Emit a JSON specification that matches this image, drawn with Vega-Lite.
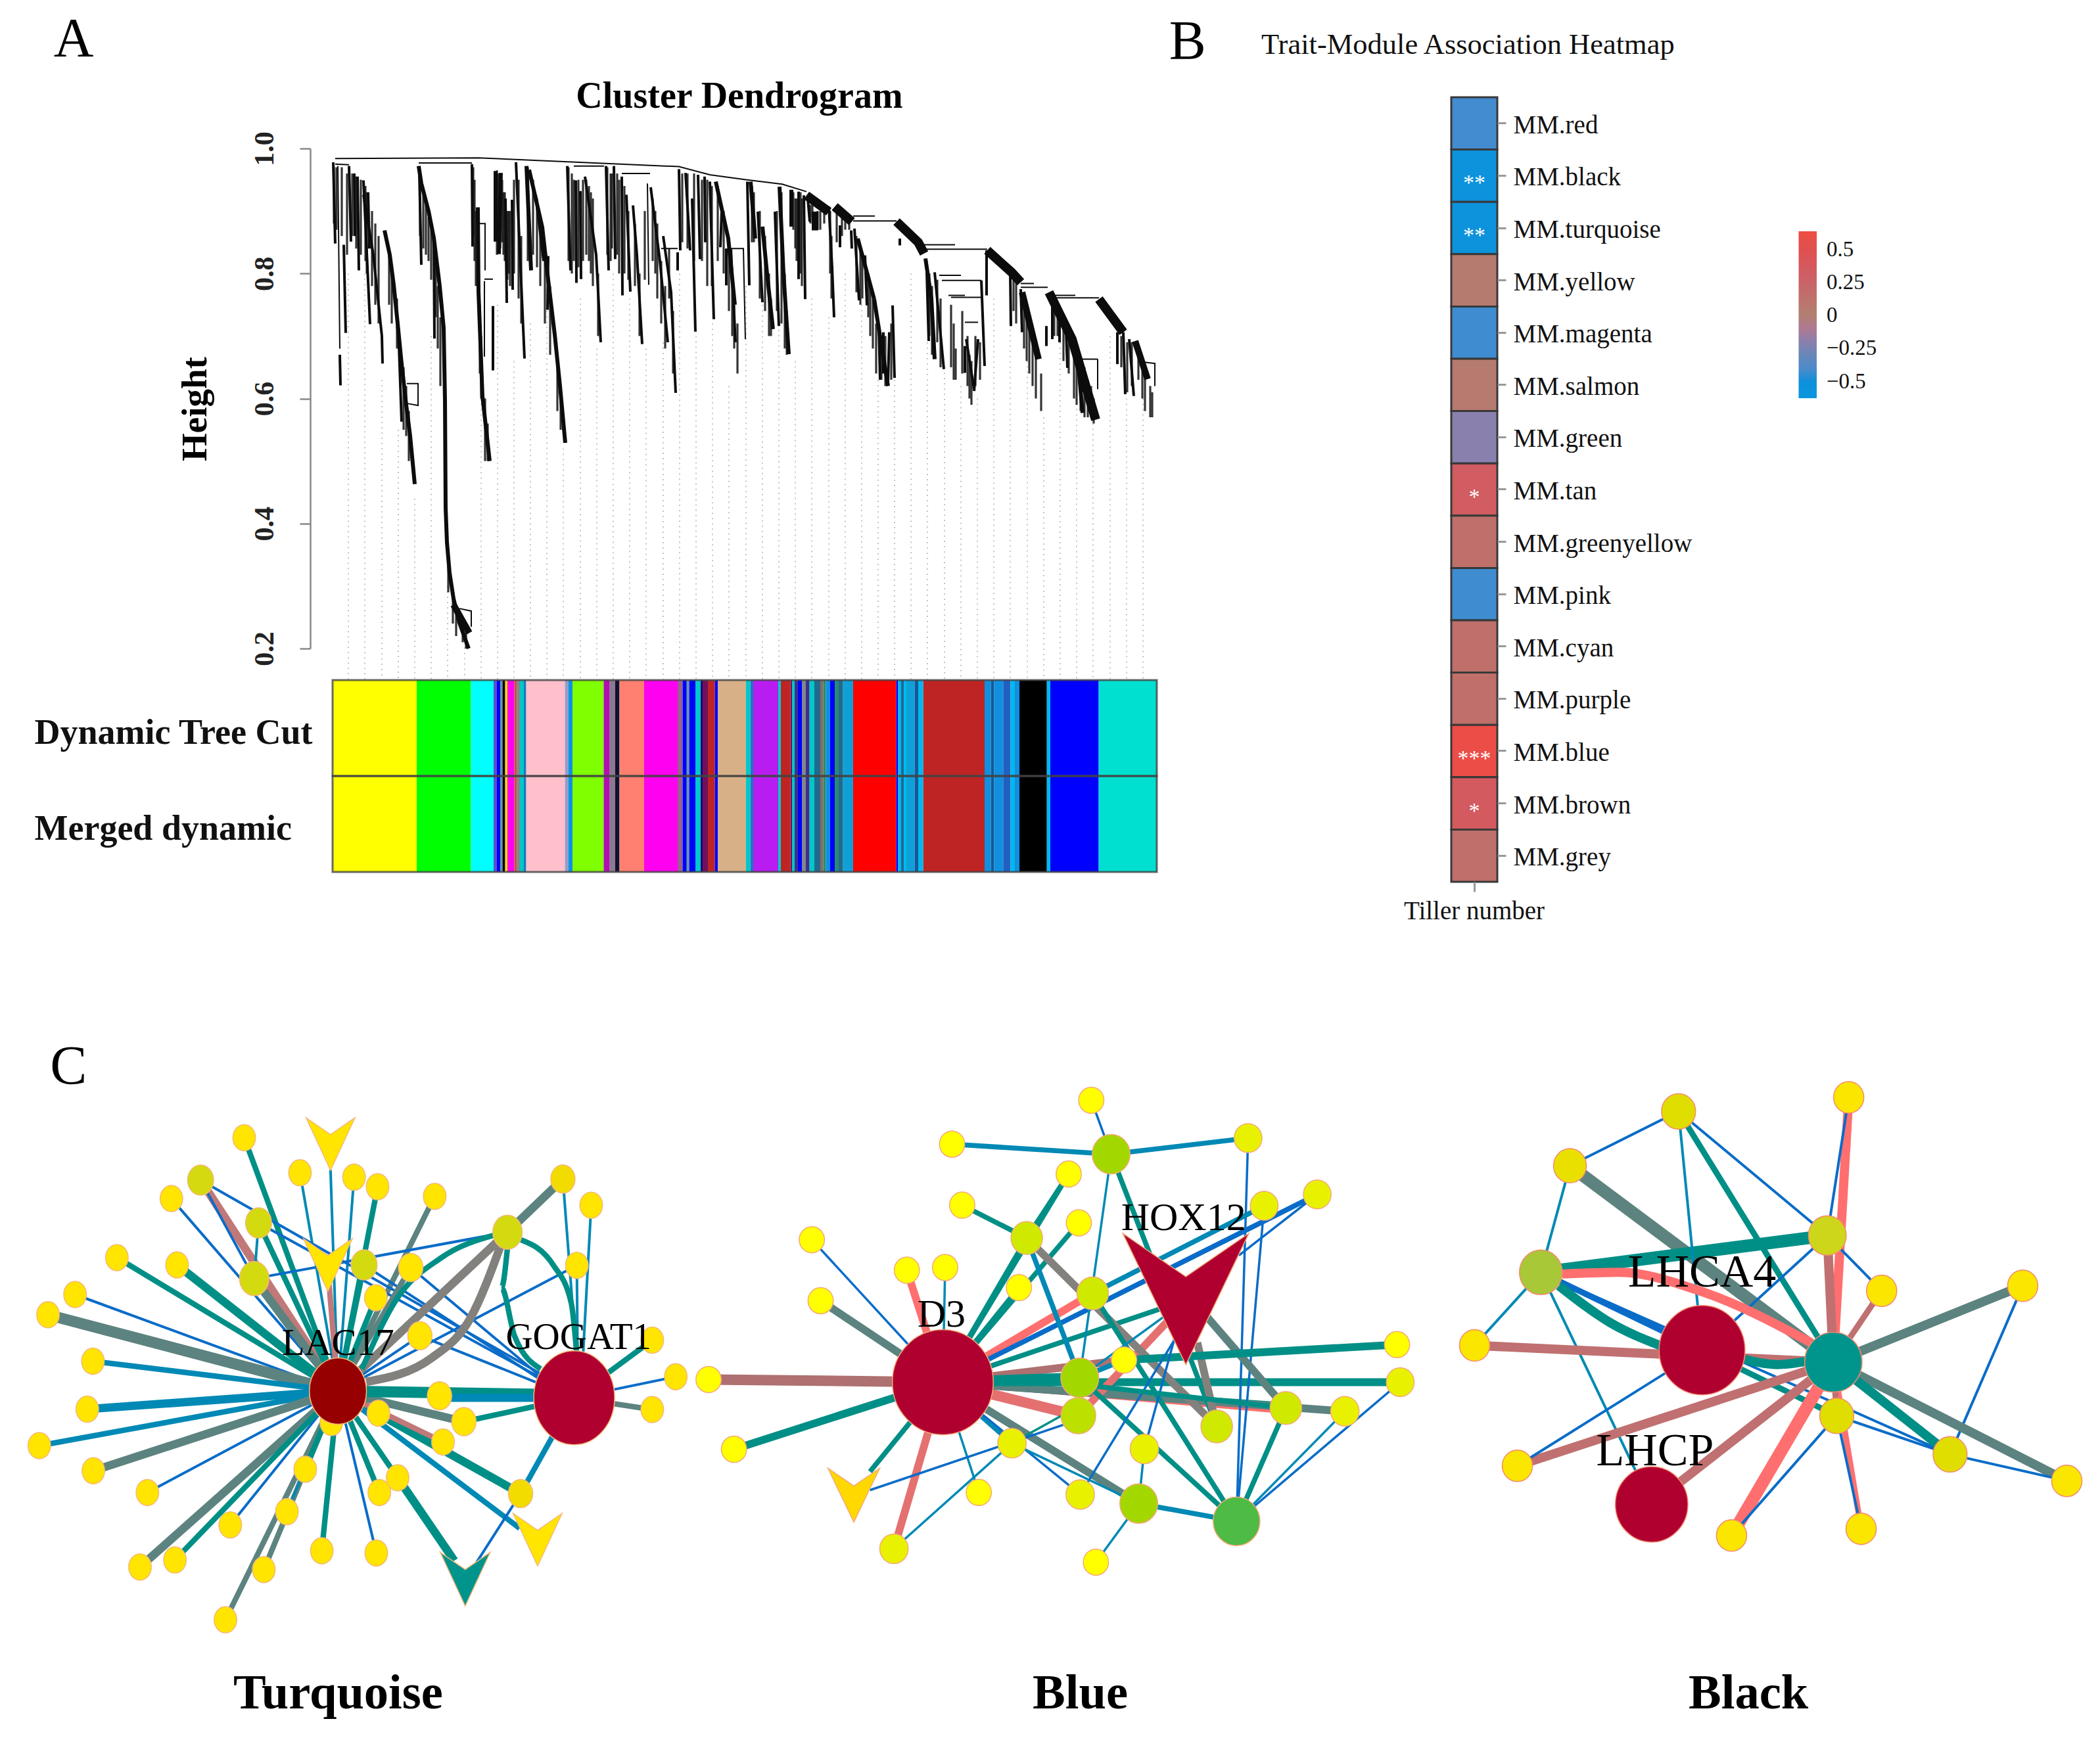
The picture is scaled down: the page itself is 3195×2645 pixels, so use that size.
{"$schema":"https://vega.github.io/schema/vega-lite/v6.json","width":3195,"height":2645,"autosize":"none","padding":0,"background":"white","config":{"view":{"stroke":null},"font":"Liberation Serif","text":{"font":"Liberation Serif"},"axis":{"labelFont":"Liberation Serif","titleFont":"Liberation Serif","grid":false,"labelLimit":0},"legend":{"labelFont":"Liberation Serif"}},
"resolve":{"scale":{"x":"independent","y":"independent","color":"independent","stroke":"independent","strokeWidth":"independent","size":"independent","shape":"independent"},"axis":{"x":"independent","y":"independent"},"legend":{"color":"independent"}},
"datasets":{
"edgesT":[
{"x":745,"y":850,"x2":530,"y2":163,"r":"teal","w":2},{"x":745,"y":850,"x2":658,"y2":258,"r":"cerulean","w":1},{"x":745,"y":850,"x2":728,"y2":250,"r":"cerulean","w":1},{"x":745,"y":850,"x2":782,"y2":270,"r":"cerulean","w":1},{"x":745,"y":850,"x2":836,"y2":296,"r":"teal","w":2},{"x":745,"y":850,"x2":967,"y2":322,"r":"slate","w":2},{"x":745,"y":850,"x2":363,"y2":328,"r":"blue","w":1},{"x":745,"y":850,"x2":430,"y2":278,"r":"rose","w":3},{"x":430,"y":278,"x2":553,"y2":545,"r":"blue","w":1},{"x":430,"y":278,"x2":1250,"y2":830,"r":"blue","w":1},{"x":745,"y":850,"x2":563,"y2":394,"r":"teal","w":2},{"x":563,"y":394,"x2":1250,"y2":840,"r":"blue","w":1},{"x":563,"y":394,"x2":553,"y2":545,"r":"cerulean","w":1},{"x":745,"y":850,"x2":553,"y2":545,"r":"slate","w":3},{"x":553,"y":545,"x2":1134,"y2":419,"r":"blue","w":1},{"x":745,"y":850,"x2":805,"y2":508,"r":"teal","w":2},{"x":805,"y":508,"x2":1250,"y2":850,"r":"blue","w":1},{"x":912,"y":515,"x2":1250,"y2":850,"r":"blue","w":1},{"x":745,"y":850,"x2":912,"y2":515,"r":"slate","w":2},{"x":745,"y":850,"x2":832,"y2":597,"r":"teal","w":2},{"x":745,"y":850,"x2":238,"y2":488,"r":"teal","w":2},{"x":745,"y":850,"x2":376,"y2":508,"r":"teal","w":3},{"x":745,"y":850,"x2":142,"y2":588,"r":"blue","w":1},{"x":745,"y":850,"x2":80,"y2":643,"r":"slate","w":4},{"x":745,"y":850,"x2":183,"y2":769,"r":"cerulean","w":2},{"x":745,"y":850,"x2":170,"y2":899,"r":"cerulean","w":3},{"x":745,"y":850,"x2":60,"y2":998,"r":"cerulean","w":2},{"x":745,"y":850,"x2":184,"y2":1066,"r":"slate","w":3},{"x":745,"y":850,"x2":308,"y2":1125,"r":"blue","w":1},{"x":745,"y":850,"x2":498,"y2":1213,"r":"blue","w":1},{"x":745,"y":850,"x2":291,"y2":1327,"r":"slate","w":3},{"x":745,"y":850,"x2":371,"y2":1308,"r":"teal","w":2},{"x":745,"y":850,"x2":487,"y2":1470,"r":"slate","w":2},{"x":745,"y":850,"x2":575,"y2":1334,"r":"slate","w":2},{"x":745,"y":850,"x2":628,"y2":1177,"r":"cerulean","w":1},{"x":745,"y":850,"x2":670,"y2":1062,"r":"teal","w":2},{"x":745,"y":850,"x2":708,"y2":1283,"r":"teal","w":2},{"x":745,"y":850,"x2":833,"y2":1289,"r":"blue","w":1},{"x":745,"y":850,"x2":840,"y2":1125,"r":"teal","w":2},{"x":745,"y":850,"x2":882,"y2":1085,"r":"teal","w":2},{"x":882,"y":1085,"x2":1012,"y2":1310,"r":"teal","w":3},{"x":745,"y":850,"x2":1164,"y2":1128,"r":"teal","w":3},{"x":745,"y":850,"x2":986,"y2":988,"r":"rose","w":2},{"x":745,"y":850,"x2":1162,"y2":1222,"r":"cerulean","w":2},{"x":745,"y":850,"x2":1034,"y2":933,"r":"slate","w":3},{"x":745,"y":850,"x2":1287,"y2":860,"r":"teal","w":4},{"x":978,"y":868,"x2":1287,"y2":868,"r":"cerulean","w":3},{"x":1034,"y":933,"x2":1287,"y2":868,"r":"teal","w":2},{"x":722,"y":520,"x2":745,"y2":850,"r":"rose","w":2},{"x":745,"y":850,"x2":933,"y2":700,"r":"blue","w":1},{"x":933,"y":700,"x2":1250,"y2":850,"r":"blue","w":1},{"x":1134,"y":419,"x2":745,"y2":850,"r":"gray","w":3},{"x":1261,"y":275,"x2":1134,"y2":419,"r":"slate","w":3},{"x":1261,"y":275,"x2":1295,"y2":800,"r":"cerulean","w":1},{"x":1326,"y":346,"x2":1305,"y2":800,"r":"cerulean","w":1},{"x":1293,"y":509,"x2":1295,"y2":800,"r":"cerulean","w":1},{"x":1293,"y":509,"x2":745,"y2":850,"r":"blue","w":1},{"x":1466,"y":712,"x2":1287,"y2":868,"r":"teal","w":2},{"x":1520,"y":811,"x2":1287,"y2":868,"r":"blue","w":1},{"x":1466,"y":900,"x2":1287,"y2":868,"r":"slate","w":2},{"x":1164,"y":1128,"x2":1287,"y2":868,"r":"cerulean","w":2},{"x":1060,"y":1320,"x2":1164,"y2":1128,"r":"blue","w":1}],
"curvesT":[
{"e":"a","o":1,"x":1120,"y":450,"r":"gray","w":3},{"e":"a","o":2,"x":1050,"y":650,"r":"gray","w":3},{"e":"a","o":3,"x":960,"y":760,"r":"gray","w":3},{"e":"a","o":4,"x":810,"y":825,"r":"gray","w":3},
{"e":"b","o":1,"x":1110,"y":425,"r":"teal","w":2},{"e":"b","o":2,"x":980,"y":490,"r":"teal","w":2},{"e":"b","o":3,"x":880,"y":600,"r":"teal","w":2},{"e":"b","o":4,"x":800,"y":790,"r":"teal","w":2},
{"e":"c","o":1,"x":1134,"y":460,"r":"teal","w":2},{"e":"c","o":2,"x":1120,"y":570,"r":"teal","w":2},{"e":"c","o":3,"x":1150,"y":700,"r":"teal","w":2},{"e":"c","o":4,"x":1210,"y":790,"r":"teal","w":2},
{"e":"d","o":1,"x":1165,"y":440,"r":"teal","w":2},{"e":"d","o":2,"x":1240,"y":510,"r":"teal","w":2},{"e":"d","o":3,"x":1280,"y":610,"r":"teal","w":2},{"e":"d","o":4,"x":1295,"y":780,"r":"teal","w":2}],
"nodesT":[
{"x":730,"y":935,"t":"gold","d":40,"k":"gene"},{"x":745,"y":850,"t":"maroon","d":101,"k":"gene"},{"x":1287,"y":868,"t":"crimson","d":143,"k":"gene"},{"x":530,"y":163,"t":"gold","d":40,"k":"gene"},{"x":658,"y":258,"t":"gold","d":40,"k":"gene"},{"x":782,"y":270,"t":"gold","d":40,"k":"gene"},{"x":836,"y":296,"t":"gold","d":40,"k":"gene"},{"x":967,"y":322,"t":"gold","d":40,"k":"gene"},{"x":363,"y":328,"t":"gold","d":40,"k":"gene"},{"x":1261,"y":275,"t":"amber","d":43,"k":"gene"},{"x":1326,"y":346,"t":"gold","d":40,"k":"gene"},{"x":238,"y":488,"t":"gold","d":40,"k":"gene"},{"x":376,"y":508,"t":"gold","d":40,"k":"gene"},{"x":142,"y":588,"t":"gold","d":40,"k":"gene"},{"x":80,"y":643,"t":"gold","d":40,"k":"gene"},{"x":183,"y":769,"t":"gold","d":40,"k":"gene"},{"x":170,"y":899,"t":"gold","d":40,"k":"gene"},{"x":60,"y":998,"t":"gold","d":40,"k":"gene"},{"x":184,"y":1066,"t":"gold","d":40,"k":"gene"},{"x":308,"y":1125,"t":"gold","d":40,"k":"gene"},{"x":498,"y":1213,"t":"gold","d":40,"k":"gene"},{"x":291,"y":1327,"t":"gold","d":40,"k":"gene"},{"x":371,"y":1308,"t":"gold","d":40,"k":"gene"},{"x":487,"y":1470,"t":"gold","d":40,"k":"gene"},{"x":575,"y":1334,"t":"gold","d":40,"k":"gene"},{"x":628,"y":1177,"t":"gold","d":40,"k":"gene"},{"x":670,"y":1062,"t":"gold","d":40,"k":"gene"},{"x":708,"y":1283,"t":"gold","d":40,"k":"gene"},{"x":833,"y":1289,"t":"gold","d":40,"k":"gene"},{"x":840,"y":1125,"t":"gold","d":40,"k":"gene"},{"x":882,"y":1085,"t":"gold","d":40,"k":"gene"},{"x":1164,"y":1128,"t":"amber","d":43,"k":"gene"},{"x":986,"y":988,"t":"gold","d":40,"k":"gene"},{"x":1034,"y":933,"t":"gold","d":43,"k":"gene"},{"x":978,"y":863,"t":"gold","d":43,"k":"gene"},{"x":838,"y":910,"t":"gold","d":40,"k":"gene"},{"x":933,"y":700,"t":"gold","d":43,"k":"gene"},{"x":832,"y":597,"t":"gold","d":40,"k":"gene"},{"x":912,"y":515,"t":"gold","d":43,"k":"gene"},{"x":1293,"y":509,"t":"gold","d":40,"k":"gene"},{"x":1466,"y":712,"t":"gold","d":40,"k":"gene"},{"x":1520,"y":811,"t":"gold","d":40,"k":"gene"},{"x":1466,"y":900,"t":"gold","d":40,"k":"gene"},{"x":430,"y":278,"t":"olive","d":46,"k":"gene"},{"x":563,"y":394,"t":"olive","d":46,"k":"gene"},{"x":553,"y":545,"t":"olive","d":52,"k":"gene"},{"x":805,"y":508,"t":"olive","d":46,"k":"gene"},{"x":1134,"y":419,"t":"olive","d":52,"k":"gene"},{"x":728,"y":180,"t":"gold","d":80,"k":"tf"},{"x":722,"y":508,"t":"gold","d":80,"k":"tf"},{"x":1037,"y":1360,"t":"teal","d":82,"k":"tf"},{"x":1203,"y":1253,"t":"gold","d":80,"k":"tf"}],
"textT":[{"x":745,"y":722,"label":"LAC17"},{"x":1297,"y":705,"label":"GOGAT1"}],
"edgesB":[
{"x":548,"y":928,"x2":40,"y2":920,"r":"mauve","w":4},{"x":548,"y":928,"x2":95,"y2":1128,"r":"teal","w":3},{"x":548,"y":928,"x2":283,"y2":685,"r":"slate","w":3},{"x":548,"y":928,"x2":264,"y2":503,"r":"blue","w":1},{"x":548,"y":928,"x2":470,"y2":594,"r":"coral","w":3},{"x":548,"y":928,"x2":553,"y2":586,"r":"cerulean","w":1},{"x":548,"y":928,"x2":390,"y2":1195,"r":"teal","w":2},{"x":548,"y":928,"x2":442,"y2":1425,"r":"salmon","w":3},{"x":548,"y":928,"x2":626,"y2":1257,"r":"cerulean","w":1},{"x":548,"y":928,"x2":698,"y2":1110,"r":"cerulean","w":2},{"x":548,"y":928,"x2":973,"y2":1290,"r":"slate","w":3},{"x":548,"y":928,"x2":846,"y2":1263,"r":"blue","w":1},{"x":548,"y":928,"x2":821,"y2":307,"r":"teal","w":2},{"x":548,"y":928,"x2":730,"y2":498,"r":"teal","w":2},{"x":548,"y":928,"x2":843,"y2":453,"r":"teal","w":2},{"x":548,"y":928,"x2":713,"y2":646,"r":"teal","w":2},{"x":548,"y":928,"x2":873,"y2":663,"r":"coral","w":3},{"x":548,"y":928,"x2":1360,"y2":368,"r":"blue","w":2},{"x":548,"y":928,"x2":1040,"y2":700,"r":"teal","w":2},{"x":548,"y":928,"x2":941,"y2":862,"r":"mauve","w":3},{"x":548,"y":928,"x2":1292,"y2":1015,"r":"coral","w":2},{"x":548,"y":928,"x2":1292,"y2":1000,"r":"teal","w":3},{"x":548,"y":928,"x2":842,"y2":1028,"r":"salmon","w":4},{"x":548,"y":928,"x2":1420,"y2":1015,"r":"slate","w":3},{"x":548,"y":928,"x2":845,"y2":915,"r":"teal","w":4},{"x":548,"y":928,"x2":1540,"y2":928,"r":"teal","w":3},{"x":1040,"y":740,"x2":842,"y2":1028,"r":"salmon","w":3},{"x":590,"y":400,"x2":730,"y2":498,"r":"teal","w":2},{"x":730,"y":498,"x2":821,"y2":307,"r":"teal","w":2},{"x":730,"y":498,"x2":845,"y2":915,"r":"cerulean","w":2},{"x":730,"y":498,"x2":1142,"y2":1060,"r":"gray","w":3},{"x":913,"y":248,"x2":568,"y2":218,"r":"cerulean","w":2},{"x":913,"y":248,"x2":1210,"y2":200,"r":"cerulean","w":2},{"x":913,"y":248,"x2":870,"y2":87,"r":"blue","w":1},{"x":913,"y":248,"x2":845,"y2":915,"r":"cerulean","w":1},{"x":913,"y":248,"x2":1142,"y2":1060,"r":"teal","w":2},{"x":1210,"y":200,"x2":1185,"y2":1343,"r":"blue","w":1},{"x":1245,"y":402,"x2":1185,"y2":1343,"r":"blue","w":1},{"x":1360,"y":368,"x2":1190,"y2":550,"r":"blue","w":1},{"x":873,"y":663,"x2":1245,"y2":402,"r":"cerulean","w":2},{"x":873,"y":663,"x2":1185,"y2":1343,"r":"teal","w":2},{"x":845,"y":915,"x2":1185,"y2":1343,"r":"teal","w":2},{"x":1100,"y":700,"x2":1292,"y2":1005,"r":"slate","w":3},{"x":1100,"y":810,"x2":1135,"y2":1020,"r":"gray","w":3},{"x":941,"y":862,"x2":1533,"y2":816,"r":"teal","w":3},{"x":941,"y":862,"x2":845,"y2":915,"r":"cerulean","w":2},{"x":1040,"y":720,"x2":845,"y2":915,"r":"cerulean","w":1},{"x":1060,"y":780,"x2":846,"y2":1263,"r":"blue","w":1},{"x":1050,"y":800,"x2":985,"y2":1127,"r":"blue","w":1},{"x":985,"y":1127,"x2":973,"y2":1290,"r":"cerulean","w":1},{"x":973,"y":1290,"x2":1185,"y2":1343,"r":"cerulean","w":2},{"x":973,"y":1290,"x2":880,"y2":1465,"r":"cerulean","w":1},{"x":1292,"y":1005,"x2":1185,"y2":1343,"r":"teal","w":2},{"x":1420,"y":1015,"x2":1185,"y2":1343,"r":"cerulean","w":1},{"x":1540,"y":928,"x2":1185,"y2":1343,"r":"blue","w":1},{"x":442,"y":1425,"x2":698,"y2":1110,"r":"cerulean","w":1},{"x":698,"y":1110,"x2":842,"y2":1000,"r":"teal","w":1},{"x":390,"y":1250,"x2":842,"y2":1040,"r":"blue","w":1},{"x":698,"y":1110,"x2":973,"y2":1290,"r":"cerulean","w":1},{"x":1292,"y":1005,"x2":845,"y2":935,"r":"teal","w":2},{"x":1292,"y":1005,"x2":1420,"y2":1015,"r":"slate","w":2}],
"nodesB":[
{"x":548,"y":928,"t":"crimson","d":160,"k":"gene"},{"x":870,"y":87,"t":"lemon","d":40,"k":"gene"},{"x":568,"y":218,"t":"lemon","d":40,"k":"gene"},{"x":1210,"y":200,"t":"citron","d":44,"k":"gene"},{"x":821,"y":307,"t":"lemon","d":40,"k":"gene"},{"x":590,"y":400,"t":"lemon","d":40,"k":"gene"},{"x":1245,"y":402,"t":"citron","d":44,"k":"gene"},{"x":1360,"y":368,"t":"citron","d":44,"k":"gene"},{"x":843,"y":453,"t":"lemon","d":40,"k":"gene"},{"x":264,"y":503,"t":"lemon","d":40,"k":"gene"},{"x":470,"y":594,"t":"lemon","d":40,"k":"gene"},{"x":553,"y":586,"t":"lemon","d":40,"k":"gene"},{"x":283,"y":685,"t":"lemon","d":40,"k":"gene"},{"x":713,"y":646,"t":"lemon","d":40,"k":"gene"},{"x":1533,"y":816,"t":"lemon","d":40,"k":"gene"},{"x":1540,"y":928,"t":"citron","d":44,"k":"gene"},{"x":40,"y":920,"t":"lemon","d":40,"k":"gene"},{"x":95,"y":1128,"t":"lemon","d":40,"k":"gene"},{"x":626,"y":1257,"t":"lemon","d":40,"k":"gene"},{"x":880,"y":1465,"t":"lemon","d":40,"k":"gene"},{"x":442,"y":1425,"t":"citron","d":45,"k":"gene"},{"x":846,"y":1263,"t":"citron","d":45,"k":"gene"},{"x":985,"y":1127,"t":"citron","d":45,"k":"gene"},{"x":698,"y":1110,"t":"citron","d":45,"k":"gene"},{"x":1420,"y":1015,"t":"citron","d":45,"k":"gene"},{"x":1292,"y":1005,"t":"pear","d":50,"k":"gene"},{"x":1142,"y":1060,"t":"pear","d":50,"k":"gene"},{"x":730,"y":498,"t":"pear","d":50,"k":"gene"},{"x":873,"y":663,"t":"pear","d":50,"k":"gene"},{"x":842,"y":1028,"t":"pear2","d":55,"k":"gene"},{"x":845,"y":915,"t":"apple","d":60,"k":"gene"},{"x":913,"y":248,"t":"apple","d":60,"k":"gene"},{"x":973,"y":1290,"t":"apple","d":60,"k":"gene"},{"x":1185,"y":1343,"t":"leaf","d":74,"k":"gene"},{"x":941,"y":862,"t":"lemon","d":40,"k":"gene"},{"x":355,"y":1265,"t":"amber2","d":82,"k":"tf"},{"x":1075,"y":680,"t":"crimson","d":200,"k":"tf"}],
"textB":[{"x":1070,"y":440,"label":"HOX12"},{"x":545,"y":728,"label":"D3"}],
"edgesK":[
{"x":336,"y":302,"x2":952,"y2":888,"r":"slate","w":4},{"x":268,"y":620,"x2":938,"y2":510,"r":"teal","w":4},{"x":268,"y":620,"x2":1225,"y2":1163,"r":"blue","w":1},{"x":268,"y":620,"x2":645,"y2":852,"r":"blue","w":2},{"x":645,"y":852,"x2":960,"y2":1048,"r":"teal","w":2},{"x":590,"y":140,"x2":336,"y2":302,"r":"blue","w":1},{"x":336,"y":302,"x2":268,"y2":620,"r":"cerulean","w":1},{"x":590,"y":140,"x2":645,"y2":852,"r":"cerulean","w":1},{"x":590,"y":140,"x2":952,"y2":888,"r":"teal","w":2},{"x":590,"y":140,"x2":938,"y2":510,"r":"blue","w":1},{"x":988,"y":98,"x2":952,"y2":888,"r":"coral","w":3},{"x":988,"y":98,"x2":938,"y2":510,"r":"blue","w":1},{"x":938,"y":510,"x2":952,"y2":888,"r":"mauve","w":3},{"x":938,"y":510,"x2":645,"y2":852,"r":"blue","w":1},{"x":938,"y":510,"x2":1065,"y2":675,"r":"blue","w":1},{"x":1065,"y":675,"x2":952,"y2":888,"r":"mauve","w":2},{"x":268,"y":620,"x2":113,"y2":838,"r":"cerulean","w":1},{"x":268,"y":620,"x2":527,"y2":1312,"r":"cerulean","w":1},{"x":113,"y":838,"x2":952,"y2":888,"r":"mauve","w":3},{"x":213,"y":1197,"x2":952,"y2":888,"r":"mauve","w":3},{"x":213,"y":1197,"x2":645,"y2":852,"r":"blue","w":1},{"x":527,"y":1312,"x2":952,"y2":888,"r":"mauve","w":3},{"x":714,"y":1405,"x2":952,"y2":888,"r":"coral","w":4},{"x":714,"y":1405,"x2":960,"y2":1048,"r":"blue","w":1},{"x":1017,"y":1385,"x2":952,"y2":888,"r":"coral","w":2},{"x":1017,"y":1385,"x2":960,"y2":1048,"r":"blue","w":1},{"x":1395,"y":660,"x2":952,"y2":888,"r":"slate","w":3},{"x":1395,"y":660,"x2":1225,"y2":1163,"r":"blue","w":1},{"x":952,"y":888,"x2":1498,"y2":1242,"r":"slate","w":3},{"x":952,"y":888,"x2":1225,"y2":1163,"r":"teal","w":3},{"x":960,"y":1048,"x2":1225,"y2":1163,"r":"blue","w":1},{"x":1225,"y":1163,"x2":1498,"y2":1242,"r":"blue","w":1},{"x":952,"y":888,"x2":960,"y2":1048,"r":"mauve","w":2}],
"curvesK":[
{"e":"a","o":1,"x":318,"y":625,"r":"coral","w":3},{"e":"a","o":2,"x":450,"y":620,"r":"coral","w":3},{"e":"a","o":3,"x":650,"y":680,"r":"coral","w":3},{"e":"a","o":4,"x":900,"y":830,"r":"coral","w":3},
{"e":"b","o":1,"x":310,"y":660,"r":"teal","w":3},{"e":"b","o":2,"x":430,"y":770,"r":"teal","w":3},{"e":"b","o":3,"x":550,"y":840,"r":"teal","w":3},
{"e":"c","o":1,"x":745,"y":880,"r":"teal","w":3},{"e":"c","o":2,"x":820,"y":895,"r":"teal","w":3},{"e":"c","o":3,"x":890,"y":885,"r":"teal","w":3}],
"nodesK":[
{"x":645,"y":852,"t":"crimson","d":136,"k":"gene"},{"x":527,"y":1312,"t":"crimson","d":115,"k":"gene"},{"x":952,"y":888,"t":"teal","d":91,"k":"gene"},{"x":988,"y":98,"t":"gold","d":48,"k":"gene"},{"x":590,"y":140,"t":"olive2","d":54,"k":"gene"},{"x":336,"y":302,"t":"olive3","d":52,"k":"gene"},{"x":938,"y":510,"t":"olive","d":60,"k":"gene"},{"x":268,"y":620,"t":"moss","d":68,"k":"gene"},{"x":1065,"y":675,"t":"gold","d":48,"k":"gene"},{"x":1395,"y":660,"t":"gold","d":48,"k":"gene"},{"x":113,"y":838,"t":"gold","d":48,"k":"gene"},{"x":213,"y":1197,"t":"gold","d":48,"k":"gene"},{"x":1498,"y":1242,"t":"gold","d":48,"k":"gene"},{"x":1225,"y":1163,"t":"olive2","d":54,"k":"gene"},{"x":960,"y":1048,"t":"olive2","d":54,"k":"gene"},{"x":714,"y":1405,"t":"gold","d":48,"k":"gene"},{"x":1017,"y":1385,"t":"gold","d":48,"k":"gene"}],
"textK":[{"x":645,"y":622,"label":"LHCA4"},{"x":535,"y":1155,"label":"LHCP"}]
},
"layer":[
{"encoding":{"x":{"field":"x","type":"quantitative","axis":null,"scale":{"domain":[0,1256],"range":[506,1762],"nice":false,"zero":false}},"y":{"field":"h","type":"quantitative","scale":{"domain":[0.2,1],"range":[987,226],"nice":false,"zero":false},"axis":{"orient":"left","offset":-472,"title":"Height","titleFontSize":55,"titleFontWeight":"bold","titleAngle":270,"titleX":-176,"titleY":622,"titleAlign":"center","titleBaseline":"middle","values":[0.2,0.4,0.6,0.8,1],"format":".1f","labelAngle":270,"labelFontSize":42,"labelFontWeight":"bold","labelColor":"#222","tickSize":16,"tickWidth":2.5,"tickColor":"#888","domainColor":"#888","domainWidth":2.5,"labelPadding":32,"labelFlush":false}}},
"layer":[
{"data":{"values":[{"x":24,"h":0.8},{"x":49,"h":0.8},{"x":75,"h":0.63},{"x":100,"h":0.55},{"x":125,"h":0.44},{"x":150,"h":0.7},{"x":175,"h":0.3},{"x":201,"h":0.21},{"x":226,"h":0.6},{"x":251,"h":0.75},{"x":276,"h":0.66},{"x":301,"h":0.72},{"x":326,"h":0.74},{"x":351,"h":0.52},{"x":377,"h":0.76},{"x":402,"h":0.68},{"x":427,"h":0.8},{"x":452,"h":0.76},{"x":477,"h":0.68},{"x":503,"h":0.69},{"x":528,"h":0.8},{"x":553,"h":0.7},{"x":578,"h":0.72},{"x":603,"h":0.62},{"x":629,"h":0.78},{"x":654,"h":0.75},{"x":679,"h":0.71},{"x":704,"h":0.66},{"x":729,"h":0.76},{"x":755,"h":0.73},{"x":780,"h":0.8},{"x":805,"h":0.75},{"x":830,"h":0.63},{"x":855,"h":0.63},{"x":880,"h":0.8},{"x":905,"h":0.69},{"x":931,"h":0.65},{"x":956,"h":0.62},{"x":981,"h":0.6},{"x":1006,"h":0.76},{"x":1031,"h":0.71},{"x":1057,"h":0.66},{"x":1082,"h":0.57},{"x":1107,"h":0.69},{"x":1132,"h":0.6},{"x":1157,"h":0.56},{"x":1183,"h":0.7},{"x":1208,"h":0.6},{"x":1233,"h":0.6}]},"mark":{"type":"rule","stroke":"#c4c4c4","strokeWidth":2,"strokeDash":[2,6]},"encoding":{"y2":{"datum":0.1505}}},
{"data":{"values":[{"x":2,"h":0.97,"h2":0.88},{"x":6,"h":0.97,"h2":0.87},{"x":14,"h":0.97,"h2":0.86},{"x":22,"h":0.96,"h2":0.83},{"x":30,"h":0.96,"h2":0.86},{"x":36,"h":0.955,"h2":0.84},{"x":43,"h":0.95,"h2":0.83},{"x":50,"h":0.94,"h2":0.82},{"x":52,"h":0.93,"h2":0.8},{"x":60,"h":0.9,"h2":0.78},{"x":65,"h":0.88,"h2":0.75},{"x":70,"h":0.86,"h2":0.72},{"x":86,"h":0.84,"h2":0.75},{"x":90,"h":0.8,"h2":0.72},{"x":98,"h":0.76,"h2":0.68},{"x":108,"h":0.65,"h2":0.55},{"x":112,"h":0.62,"h2":0.54},{"x":116,"h":0.58,"h2":0.5},{"x":133,"h":0.96,"h2":0.86},{"x":138,"h":0.93,"h2":0.84},{"x":142,"h":0.91,"h2":0.83},{"x":146,"h":0.89,"h2":0.82},{"x":150,"h":0.87,"h2":0.79},{"x":157,"h":0.83,"h2":0.73},{"x":160,"h":0.78,"h2":0.68},{"x":164,"h":0.73,"h2":0.62},{"x":176,"h":0.34,"h2":0.29},{"x":183,"h":0.29,"h2":0.24},{"x":188,"h":0.27,"h2":0.22},{"x":198,"h":0.24,"h2":0.21},{"x":203,"h":0.23,"h2":0.2},{"x":214,"h":0.97,"h2":0.86},{"x":216,"h":0.95,"h2":0.82},{"x":218,"h":0.9,"h2":0.78},{"x":224,"h":0.75,"h2":0.64},{"x":226,"h":0.7,"h2":0.6},{"x":232,"h":0.6,"h2":0.5},{"x":236,"h":0.56,"h2":0.5},{"x":250,"h":0.965,"h2":0.83},{"x":252,"h":0.96,"h2":0.85},{"x":255,"h":0.95,"h2":0.84},{"x":258,"h":0.95,"h2":0.85},{"x":260,"h":0.93,"h2":0.83},{"x":262,"h":0.93,"h2":0.82},{"x":266,"h":0.9,"h2":0.79},{"x":268,"h":0.9,"h2":0.8},{"x":270,"h":0.9,"h2":0.78},{"x":276,"h":0.95,"h2":0.8},{"x":283,"h":0.95,"h2":0.76},{"x":287,"h":0.86,"h2":0.72},{"x":297,"h":0.97,"h2":0.82},{"x":305,"h":0.95,"h2":0.83},{"x":311,"h":0.92,"h2":0.81},{"x":316,"h":0.89,"h2":0.78},{"x":323,"h":0.83,"h2":0.72},{"x":331,"h":0.78,"h2":0.67},{"x":342,"h":0.67,"h2":0.58},{"x":347,"h":0.62,"h2":0.55},{"x":359,"h":0.97,"h2":0.82},{"x":364,"h":0.96,"h2":0.8},{"x":367,"h":0.95,"h2":0.82},{"x":374,"h":0.95,"h2":0.81},{"x":381,"h":0.95,"h2":0.82},{"x":386,"h":0.95,"h2":0.83},{"x":390,"h":0.94,"h2":0.82},{"x":393,"h":0.93,"h2":0.8},{"x":396,"h":0.92,"h2":0.78},{"x":404,"h":0.8,"h2":0.7},{"x":418,"h":0.97,"h2":0.83},{"x":423,"h":0.96,"h2":0.82},{"x":425,"h":0.96,"h2":0.84},{"x":433,"h":0.96,"h2":0.83},{"x":436,"h":0.95,"h2":0.8},{"x":444,"h":0.94,"h2":0.8},{"x":450,"h":0.9,"h2":0.79},{"x":460,"h":0.88,"h2":0.78},{"x":467,"h":0.8,"h2":0.7},{"x":475,"h":0.9,"h2":0.79},{"x":487,"h":0.92,"h2":0.82},{"x":491,"h":0.9,"h2":0.8},{"x":494,"h":0.88,"h2":0.76},{"x":500,"h":0.82,"h2":0.72},{"x":506,"h":0.78,"h2":0.68},{"x":512,"h":0.84,"h2":0.76},{"x":518,"h":0.74,"h2":0.64},{"x":532,"h":0.96,"h2":0.85},{"x":540,"h":0.96,"h2":0.84},{"x":550,"h":0.96,"h2":0.82},{"x":562,"h":0.95,"h2":0.82},{"x":570,"h":0.95,"h2":0.78},{"x":577,"h":0.94,"h2":0.78},{"x":586,"h":0.94,"h2":0.82},{"x":595,"h":0.9,"h2":0.8},{"x":603,"h":0.85,"h2":0.74},{"x":608,"h":0.8,"h2":0.7},{"x":611,"h":0.75,"h2":0.68},{"x":616,"h":0.72,"h2":0.64},{"x":638,"h":0.94,"h2":0.85},{"x":641,"h":0.93,"h2":0.85},{"x":650,"h":0.9,"h2":0.76},{"x":658,"h":0.86,"h2":0.74},{"x":664,"h":0.8,"h2":0.7},{"x":667,"h":0.76,"h2":0.7},{"x":676,"h":0.9,"h2":0.74},{"x":683,"h":0.93,"h2":0.72},{"x":688,"h":0.8,"h2":0.68},{"x":691,"h":0.74,"h2":0.67},{"x":701,"h":0.93,"h2":0.87},{"x":704,"h":0.92,"h2":0.84},{"x":706,"h":0.92,"h2":0.82},{"x":712,"h":0.93,"h2":0.8},{"x":714,"h":0.92,"h2":0.78},{"x":727,"h":0.91,"h2":0.88},{"x":730,"h":0.91,"h2":0.89},{"x":738,"h":0.9,"h2":0.87},{"x":742,"h":0.9,"h2":0.87},{"x":748,"h":0.9,"h2":0.88},{"x":757,"h":0.9,"h2":0.8},{"x":759,"h":0.86,"h2":0.76},{"x":767,"h":0.905,"h2":0.85},{"x":775,"h":0.9,"h2":0.86},{"x":780,"h":0.89,"h2":0.87},{"x":786,"h":0.89,"h2":0.87},{"x":797,"h":0.86,"h2":0.77},{"x":803,"h":0.84,"h2":0.75},{"x":806,"h":0.83,"h2":0.76},{"x":815,"h":0.8,"h2":0.73},{"x":818,"h":0.78,"h2":0.7},{"x":822,"h":0.76,"h2":0.68},{"x":827,"h":0.72,"h2":0.64},{"x":835,"h":0.7,"h2":0.63},{"x":841,"h":0.7,"h2":0.62},{"x":850,"h":0.72,"h2":0.63},{"x":908,"h":0.8,"h2":0.7},{"x":912,"h":0.78,"h2":0.67},{"x":920,"h":0.79,"h2":0.69},{"x":925,"h":0.76,"h2":0.65},{"x":941,"h":0.75,"h2":0.65},{"x":945,"h":0.72,"h2":0.63},{"x":948,"h":0.68,"h2":0.63},{"x":958,"h":0.74,"h2":0.64},{"x":966,"h":0.7,"h2":0.62},{"x":969,"h":0.67,"h2":0.6},{"x":972,"h":0.66,"h2":0.59},{"x":978,"h":0.7,"h2":0.62},{"x":985,"h":0.69,"h2":0.63},{"x":1036,"h":0.79,"h2":0.74},{"x":1040,"h":0.79,"h2":0.72},{"x":1052,"h":0.76,"h2":0.68},{"x":1056,"h":0.74,"h2":0.66},{"x":1060,"h":0.72,"h2":0.64},{"x":1065,"h":0.7,"h2":0.62},{"x":1070,"h":0.68,"h2":0.6},{"x":1078,"h":0.64,"h2":0.58},{"x":1098,"h":0.76,"h2":0.7},{"x":1103,"h":0.75,"h2":0.7},{"x":1112,"h":0.72,"h2":0.66},{"x":1120,"h":0.7,"h2":0.64},{"x":1128,"h":0.69,"h2":0.6},{"x":1132,"h":0.67,"h2":0.59},{"x":1138,"h":0.66,"h2":0.58},{"x":1144,"h":0.65,"h2":0.57},{"x":1149,"h":0.63,"h2":0.57},{"x":1154,"h":0.62,"h2":0.57},{"x":1158,"h":0.6,"h2":0.56},{"x":1200,"h":0.7,"h2":0.65},{"x":1209,"h":0.69,"h2":0.61},{"x":1216,"h":0.69,"h2":0.62},{"x":1226,"h":0.68,"h2":0.63},{"x":1232,"h":0.65,"h2":0.6},{"x":1236,"h":0.64,"h2":0.58},{"x":1244,"h":0.62,"h2":0.57},{"x":1247,"h":0.61,"h2":0.57}]},"mark":{"type":"rule","stroke":"#111","strokeWidth":3.2,"opacity":0.85},"encoding":{"y2":{"field":"h2"}}},
{"data":{"values":[
{"b":"top","o":1,"x":4,"h":0.984,"w":1},{"b":"top","o":2,"x":222,"h":0.985,"w":1},{"b":"top","o":3,"x":527,"h":0.971,"w":1},{"b":"top","o":4,"x":574,"h":0.958,"w":1},{"b":"top","o":5,"x":629,"h":0.95,"w":1},{"b":"top","o":6,"x":684,"h":0.943,"w":1},{"b":"top","o":7,"x":721,"h":0.931,"w":1},
{"b":"w1","o":1,"x":721,"h":0.925,"w":4},{"b":"w1","o":2,"x":755,"h":0.899,"w":4},{"b":"w2","o":1,"x":764,"h":0.907,"w":4},{"b":"w2","o":2,"x":790,"h":0.883,"w":4},{"b":"w3","o":1,"x":858,"h":0.883,"w":4},{"b":"w3","o":2,"x":891,"h":0.85,"w":4},{"b":"w3","o":3,"x":900,"h":0.832,"w":4},{"b":"w4","o":1,"x":996,"h":0.837,"w":4},{"b":"w4","o":2,"x":1033,"h":0.802,"w":4},{"b":"w4","o":3,"x":1047,"h":0.786,"w":4},{"b":"w5","o":1,"x":1166,"h":0.759,"w":4},{"b":"w5","o":2,"x":1203,"h":0.706,"w":4},
{"b":"h1","o":1,"x":792,"h":0.892,"w":1},{"b":"h1","o":2,"x":825,"h":0.892,"w":1},{"b":"h2","o":1,"x":792,"h":0.884,"w":1},{"b":"h2","o":2,"x":858,"h":0.884,"w":1},{"b":"h3","o":1,"x":900,"h":0.846,"w":1},{"b":"h3","o":2,"x":947,"h":0.846,"w":1},{"b":"h4","o":1,"x":900,"h":0.839,"w":1},{"b":"h4","o":2,"x":996,"h":0.839,"w":1},{"b":"h5","o":1,"x":1047,"h":0.784,"w":1},{"b":"h5","o":2,"x":1067,"h":0.784,"w":1},{"b":"h6","o":1,"x":1047,"h":0.778,"w":1},{"b":"h6","o":2,"x":1088,"h":0.778,"w":1},{"b":"h7","o":1,"x":1093,"h":0.765,"w":1},{"b":"h7","o":2,"x":1130,"h":0.765,"w":1},{"b":"h8","o":1,"x":1093,"h":0.761,"w":1},{"b":"h8","o":2,"x":1166,"h":0.761,"w":1},{"b":"h9","o":1,"x":923,"h":0.797,"w":1},{"b":"h9","o":2,"x":956,"h":0.797,"w":1},{"b":"h10","o":1,"x":927,"h":0.789,"w":1},{"b":"h10","o":2,"x":987,"h":0.789,"w":1},{"b":"h11","o":1,"x":937,"h":0.765,"w":1},{"b":"h11","o":2,"x":962,"h":0.765,"w":1},{"b":"h12","o":1,"x":941,"h":0.762,"w":1},{"b":"h12","o":2,"x":987,"h":0.762,"w":1},{"b":"h13","o":1,"x":962,"h":0.722,"w":1},{"b":"h13","o":2,"x":982,"h":0.722,"w":1},{"b":"h14","o":1,"x":1136,"h":0.663,"w":1},{"b":"h14","o":2,"x":1164,"h":0.663,"w":1},{"b":"h15","o":1,"x":1235,"h":0.658,"w":1},{"b":"h15","o":2,"x":1252,"h":0.656,"w":1},{"b":"h16","o":1,"x":131,"h":0.977,"w":1},{"b":"h16","o":2,"x":212,"h":0.977,"w":1},{"b":"h17","o":1,"x":367,"h":0.972,"w":1},{"b":"h17","o":2,"x":413,"h":0.972,"w":1},{"b":"h18","o":1,"x":440,"h":0.96,"w":1},{"b":"h18","o":2,"x":483,"h":0.96,"w":1},{"b":"h19","o":1,"x":500,"h":0.84,"w":1},{"b":"h19","o":2,"x":525,"h":0.84,"w":1},{"b":"h20","o":1,"x":4,"h":0.975,"w":1},{"b":"h20","o":2,"x":25,"h":0.974,"w":1},{"b":"box1","o":1,"x":114,"h":0.592,"w":1},{"b":"box1","o":2,"x":130,"h":0.589,"w":1},{"b":"box1","o":3,"x":130,"h":0.624,"w":1},{"b":"box1","o":4,"x":113,"h":0.624,"w":1},{"b":"box2","o":1,"x":222,"h":0.88,"w":1},{"b":"box2","o":2,"x":232,"h":0.88,"w":1},{"b":"box2","o":3,"x":232,"h":0.805,"w":1},{"b":"box3","o":1,"x":231,"h":0.791,"w":1},{"b":"box3","o":2,"x":244,"h":0.791,"w":1},{"b":"box4","o":1,"x":231,"h":0.788,"w":1},{"b":"box4","o":2,"x":231,"h":0.667,"w":1},{"b":"box5","o":1,"x":193,"h":0.264,"w":1},{"b":"box5","o":2,"x":211,"h":0.26,"w":1},{"b":"box5","o":3,"x":211,"h":0.235,"w":1},{"b":"box6","o":1,"x":1164,"h":0.663,"w":1},{"b":"box6","o":2,"x":1164,"h":0.615,"w":1},{"b":"box7","o":1,"x":1251,"h":0.657,"w":1},{"b":"box7","o":2,"x":1251,"h":0.62,"w":1},
{"b":"L1","o":1,"x":1,"h":0.978,"w":1.5},{"b":"L1","o":2,"x":4,"h":0.848,"w":1.5},{"b":"L2a","o":1,"x":8,"h":0.972,"w":1},{"b":"L2a","o":2,"x":11,"h":0.68,"w":1},{"b":"L2b","o":1,"x":11,"h":0.67,"w":1.5},{"b":"L2b","o":2,"x":12,"h":0.621,"w":1.5},{"b":"L3","o":1,"x":17,"h":0.846,"w":1.5},{"b":"L3","o":2,"x":20,"h":0.705,"w":1.5},{"b":"L4","o":1,"x":25,"h":0.972,"w":1.5},{"b":"L4","o":2,"x":28,"h":0.851,"w":1.5},{"b":"L5","o":1,"x":38,"h":0.955,"w":1.5},{"b":"L5","o":2,"x":40,"h":0.805,"w":1.5},{"b":"L6","o":1,"x":47,"h":0.949,"w":1.5},{"b":"L6","o":2,"x":57,"h":0.719,"w":1.5},{"b":"L7","o":1,"x":47,"h":0.926,"w":1.5},{"b":"L7","o":2,"x":62,"h":0.83,"w":1.5},{"b":"L7","o":3,"x":75,"h":0.7,"w":1.5},{"b":"L7","o":4,"x":76,"h":0.656,"w":1.5},{"b":"L8","o":1,"x":79,"h":0.869,"w":2},{"b":"L8","o":2,"x":87,"h":0.83,"w":2},{"b":"L8","o":3,"x":93,"h":0.782,"w":2},{"b":"L8","o":4,"x":99,"h":0.72,"w":2},{"b":"L8","o":5,"x":105,"h":0.656,"w":2},{"b":"L8","o":6,"x":112,"h":0.59,"w":2},{"b":"L8","o":7,"x":118,"h":0.54,"w":2},{"b":"L8","o":8,"x":125,"h":0.463,"w":2},{"b":"L9","o":1,"x":100,"h":0.713,"w":1.5},{"b":"L9","o":2,"x":105,"h":0.563,"w":1.5},{"b":"L10","o":1,"x":127,"h":0.621,"w":1},{"b":"L10","o":2,"x":129,"h":0.554,"w":1.5},{"b":"L11","o":1,"x":33,"h":0.96,"w":1.5},{"b":"L11","o":2,"x":34,"h":0.86,"w":1.5},{"b":"L12","o":1,"x":54,"h":0.93,"w":1.5},{"b":"L12","o":2,"x":56,"h":0.84,"w":1.5},
{"b":"M","o":1,"x":131,"h":0.972,"w":2},{"b":"M","o":2,"x":135,"h":0.944,"w":2},{"b":"M","o":3,"x":146,"h":0.9,"w":2},{"b":"M","o":4,"x":154,"h":0.857,"w":2},{"b":"M","o":5,"x":163,"h":0.78,"w":2},{"b":"M","o":6,"x":169,"h":0.713,"w":2},{"b":"M","o":7,"x":171,"h":0.598,"w":2},{"b":"M","o":8,"x":172,"h":0.425,"w":2},{"b":"M","o":9,"x":174,"h":0.37,"w":2},{"b":"M","o":10,"x":178,"h":0.321,"w":2},{"b":"M","o":11,"x":184,"h":0.28,"w":2},{"b":"M","o":12,"x":193,"h":0.241,"w":2},{"b":"M","o":13,"x":207,"h":0.2,"w":2},{"b":"M2","o":1,"x":184,"h":0.27,"w":3},{"b":"M2","o":2,"x":208,"h":0.225,"w":3},{"b":"N1","o":1,"x":132,"h":0.961,"w":1.5},{"b":"N1","o":2,"x":135,"h":0.814,"w":1.5},{"b":"N2","o":1,"x":154,"h":0.857,"w":1.5},{"b":"N2","o":2,"x":155,"h":0.696,"w":1.5},
{"b":"P1","o":1,"x":212,"h":0.975,"w":1.5},{"b":"P1","o":2,"x":213,"h":0.843,"w":1.5},{"b":"P2","o":1,"x":221,"h":0.906,"w":2},{"b":"P2","o":2,"x":222,"h":0.771,"w":2},{"b":"P2","o":3,"x":228,"h":0.604,"w":2},{"b":"P2","o":4,"x":239,"h":0.5,"w":2},{"b":"P3","o":1,"x":244,"h":0.748,"w":1.5},{"b":"P3","o":2,"x":244,"h":0.645,"w":1.5},
{"b":"Q1","o":1,"x":248,"h":0.964,"w":2},{"b":"Q1","o":2,"x":248,"h":0.851,"w":2},{"b":"Q2","o":1,"x":256,"h":0.961,"w":2},{"b":"Q2","o":2,"x":253,"h":0.831,"w":2},{"b":"Q3","o":1,"x":263,"h":0.92,"w":1.5},{"b":"Q3","o":2,"x":265,"h":0.753,"w":1.5},{"b":"Q4","o":1,"x":273,"h":0.918,"w":1.5},{"b":"Q4","o":2,"x":274,"h":0.774,"w":1.5},{"b":"Q5","o":1,"x":279,"h":0.978,"w":1.5},{"b":"Q5","o":2,"x":292,"h":0.664,"w":1.5},{"b":"R1","o":1,"x":295,"h":0.972,"w":2},{"b":"R1","o":2,"x":302,"h":0.805,"w":2},{"b":"R2","o":1,"x":299,"h":0.966,"w":2},{"b":"R2","o":2,"x":308,"h":0.925,"w":2},{"b":"R2","o":3,"x":319,"h":0.874,"w":2},{"b":"R2","o":4,"x":328,"h":0.79,"w":2},{"b":"R2","o":5,"x":338,"h":0.702,"w":2},{"b":"R2","o":6,"x":346,"h":0.62,"w":2},{"b":"R2","o":7,"x":354,"h":0.529,"w":2},{"b":"R3","o":1,"x":309,"h":0.926,"w":1.5},{"b":"R3","o":2,"x":321,"h":0.82,"w":1.5},{"b":"R4","o":1,"x":328,"h":0.828,"w":1.5},{"b":"R4","o":2,"x":327,"h":0.742,"w":1.5},
{"b":"S1","o":1,"x":357,"h":0.972,"w":1.5},{"b":"S1","o":2,"x":362,"h":0.805,"w":1.5},{"b":"S2","o":1,"x":370,"h":0.949,"w":1.5},{"b":"S2","o":2,"x":371,"h":0.785,"w":1.5},{"b":"S3","o":1,"x":377,"h":0.932,"w":1.5},{"b":"S3","o":2,"x":378,"h":0.791,"w":1.5},{"b":"S4","o":1,"x":384,"h":0.955,"w":1.5},{"b":"S4","o":2,"x":401,"h":0.83,"w":1.5},{"b":"S4","o":3,"x":408,"h":0.69,"w":1.5},{"b":"S5","o":1,"x":416,"h":0.972,"w":1.5},{"b":"S5","o":2,"x":420,"h":0.805,"w":1.5},{"b":"S6","o":1,"x":428,"h":0.972,"w":1.5},{"b":"S6","o":2,"x":430,"h":0.823,"w":1.5},{"b":"S7","o":1,"x":440,"h":0.955,"w":1.5},{"b":"S7","o":2,"x":441,"h":0.765,"w":1.5},{"b":"S8","o":1,"x":447,"h":0.926,"w":1.5},{"b":"S8","o":2,"x":453,"h":0.771,"w":1.5},{"b":"S9","o":1,"x":457,"h":0.909,"w":1.5},{"b":"S9","o":2,"x":463,"h":0.83,"w":1.5},{"b":"S9","o":3,"x":471,"h":0.687,"w":1.5},{"b":"S10","o":1,"x":479,"h":0.944,"w":1},{"b":"S10","o":2,"x":481,"h":0.782,"w":1},{"b":"S11","o":1,"x":484,"h":0.938,"w":1.5},{"b":"S11","o":2,"x":498,"h":0.82,"w":1.5},{"b":"S11","o":3,"x":510,"h":0.69,"w":1.5},{"b":"S12","o":1,"x":503,"h":0.86,"w":1.5},{"b":"S12","o":2,"x":515,"h":0.77,"w":1.5},{"b":"S12","o":3,"x":522,"h":0.609,"w":1.5},{"b":"S13","o":1,"x":525,"h":0.834,"w":1.5},{"b":"S13","o":2,"x":525,"h":0.805,"w":1.5},{"b":"S14","o":1,"x":527,"h":0.967,"w":1.5},{"b":"S14","o":2,"x":529,"h":0.837,"w":1.5},{"b":"S15","o":1,"x":537,"h":0.961,"w":1.5},{"b":"S15","o":2,"x":544,"h":0.837,"w":1.5},{"b":"S16","o":1,"x":547,"h":0.92,"w":1.5},{"b":"S16","o":2,"x":552,"h":0.707,"w":1.5},{"b":"S17","o":1,"x":556,"h":0.958,"w":1.5},{"b":"S17","o":2,"x":559,"h":0.823,"w":1.5},{"b":"S18","o":1,"x":566,"h":0.955,"w":1.5},{"b":"S18","o":2,"x":567,"h":0.85,"w":1.5},
{"b":"T1","o":1,"x":574,"h":0.947,"w":1.5},{"b":"T1","o":2,"x":580,"h":0.727,"w":1.5},{"b":"T2","o":1,"x":583,"h":0.947,"w":2},{"b":"T2","o":2,"x":602,"h":0.856,"w":2},{"b":"T2","o":3,"x":612,"h":0.75,"w":2},{"b":"T2","o":4,"x":622,"h":0.62,"w":1.5},{"b":"T3","o":1,"x":592,"h":0.899,"w":1.5},{"b":"T3","o":2,"x":590,"h":0.842,"w":1.5},{"b":"T4","o":1,"x":599,"h":0.84,"w":1.5},{"b":"T4","o":2,"x":599,"h":0.781,"w":1.5},{"b":"T5","o":1,"x":606,"h":0.84,"w":1.5},{"b":"T5","o":2,"x":613,"h":0.69,"w":1.5},{"b":"T6","o":1,"x":606,"h":0.84,"w":1},{"b":"T6","o":2,"x":625,"h":0.84,"w":1},{"b":"T6","o":3,"x":628,"h":0.695,"w":1},{"b":"T7","o":1,"x":631,"h":0.947,"w":1.5},{"b":"T7","o":2,"x":634,"h":0.781,"w":1.5},{"b":"T8","o":1,"x":636,"h":0.947,"w":2},{"b":"T8","o":2,"x":643,"h":0.856,"w":2},{"b":"T9","o":1,"x":647,"h":0.899,"w":1.5},{"b":"T9","o":2,"x":654,"h":0.754,"w":1.5},{"b":"T10","o":1,"x":654,"h":0.875,"w":2},{"b":"T10","o":2,"x":661,"h":0.8,"w":2},{"b":"T10","o":3,"x":670,"h":0.711,"w":2},{"b":"T11","o":1,"x":673,"h":0.899,"w":1.5},{"b":"T11","o":2,"x":679,"h":0.716,"w":1.5},{"b":"T12","o":1,"x":680,"h":0.939,"w":2},{"b":"T12","o":2,"x":686,"h":0.8,"w":2},{"b":"T12","o":3,"x":694,"h":0.671,"w":2},{"b":"T13","o":1,"x":698,"h":0.934,"w":2},{"b":"T13","o":2,"x":698,"h":0.875,"w":2},{"b":"T14","o":1,"x":709,"h":0.931,"w":1.5},{"b":"T14","o":2,"x":709,"h":0.791,"w":1.5},{"b":"T15","o":1,"x":717,"h":0.925,"w":1.5},{"b":"T15","o":2,"x":719,"h":0.759,"w":1.5},{"b":"T16","o":1,"x":723,"h":0.92,"w":1.5},{"b":"T16","o":2,"x":726,"h":0.883,"w":1.5},{"b":"T17","o":1,"x":734,"h":0.899,"w":3},{"b":"T17","o":2,"x":734,"h":0.869,"w":3},{"b":"T18","o":1,"x":755,"h":0.907,"w":1.5},{"b":"T18","o":2,"x":760,"h":0.81,"w":1.5},{"b":"T18","o":3,"x":763,"h":0.73,"w":1.5},{"b":"T19","o":1,"x":772,"h":0.877,"w":1.5},{"b":"T19","o":2,"x":772,"h":0.842,"w":1.5},{"b":"T20","o":1,"x":789,"h":0.869,"w":1.5},{"b":"T20","o":2,"x":790,"h":0.84,"w":1.5},
{"b":"U1","o":1,"x":794,"h":0.872,"w":1.5},{"b":"U1","o":2,"x":801,"h":0.757,"w":1.5},{"b":"U2","o":1,"x":799,"h":0.856,"w":2},{"b":"U2","o":2,"x":824,"h":0.759,"w":2},{"b":"U2","o":3,"x":830,"h":0.631,"w":1.5},{"b":"U3","o":1,"x":810,"h":0.829,"w":1.5},{"b":"U3","o":2,"x":813,"h":0.749,"w":1.5},{"b":"U4","o":1,"x":824,"h":0.759,"w":2},{"b":"U4","o":2,"x":845,"h":0.62,"w":2},{"b":"U5","o":1,"x":852,"h":0.749,"w":1.5},{"b":"U5","o":2,"x":855,"h":0.633,"w":1.5},{"b":"U6","o":1,"x":831,"h":0.716,"w":1.5},{"b":"U6","o":2,"x":833,"h":0.63,"w":1.5},{"b":"U7","o":1,"x":838,"h":0.706,"w":1.5},{"b":"U7","o":2,"x":838,"h":0.64,"w":1.5},{"b":"U8","o":1,"x":847,"h":0.706,"w":1.5},{"b":"U8","o":2,"x":845,"h":0.625,"w":1.5},{"b":"U9","o":1,"x":863,"h":0.856,"w":1.5},{"b":"U9","o":2,"x":863,"h":0.845,"w":1.5},
{"b":"V1","o":1,"x":902,"h":0.824,"w":2},{"b":"V1","o":2,"x":911,"h":0.76,"w":2},{"b":"V1","o":3,"x":916,"h":0.663,"w":2},{"b":"V2","o":1,"x":904,"h":0.802,"w":1.5},{"b":"V2","o":2,"x":907,"h":0.692,"w":1.5},{"b":"V3","o":1,"x":916,"h":0.802,"w":1.5},{"b":"V3","o":2,"x":930,"h":0.647,"w":1.5},{"b":"V4","o":1,"x":937,"h":0.759,"w":2},{"b":"V4","o":2,"x":950,"h":0.625,"w":1.5},{"b":"V5","o":1,"x":955,"h":0.749,"w":2},{"b":"V5","o":2,"x":971,"h":0.588,"w":1.5},{"b":"V6","o":1,"x":964,"h":0.695,"w":1.5},{"b":"V6","o":2,"x":976,"h":0.615,"w":1.5},{"b":"V7","o":1,"x":982,"h":0.695,"w":1.5},{"b":"V7","o":2,"x":976,"h":0.612,"w":1.5},{"b":"V8","o":1,"x":962,"h":0.684,"w":1.5},{"b":"V8","o":2,"x":962,"h":0.641,"w":1.5},{"b":"V9","o":1,"x":987,"h":0.789,"w":1.5},{"b":"V9","o":2,"x":992,"h":0.652,"w":1.5},{"b":"V10","o":1,"x":995,"h":0.837,"w":1.5},{"b":"V10","o":2,"x":995,"h":0.765,"w":1.5},
{"b":"X1","o":1,"x":1031,"h":0.802,"w":1.5},{"b":"X1","o":2,"x":1032,"h":0.716,"w":1.5},{"b":"X2","o":1,"x":1049,"h":0.77,"w":3},{"b":"X2","o":2,"x":1074,"h":0.663,"w":3},{"b":"X2","o":3,"x":1083,"h":0.572,"w":2},{"b":"X3","o":1,"x":1047,"h":0.775,"w":1.5},{"b":"X3","o":2,"x":1049,"h":0.706,"w":1.5},{"b":"X4","o":1,"x":1086,"h":0.716,"w":1.5},{"b":"X4","o":2,"x":1086,"h":0.684,"w":1.5},{"b":"X5","o":1,"x":1090,"h":0.77,"w":4},{"b":"X5","o":2,"x":1125,"h":0.695,"w":4},{"b":"X5","o":3,"x":1161,"h":0.566,"w":4},{"b":"X6","o":1,"x":1095,"h":0.749,"w":1.5},{"b":"X6","o":2,"x":1095,"h":0.695,"w":1.5},{"b":"X7","o":1,"x":1106,"h":0.727,"w":1.5},{"b":"X7","o":2,"x":1106,"h":0.69,"w":1.5},{"b":"X8","o":1,"x":1116,"h":0.706,"w":1.5},{"b":"X8","o":2,"x":1118,"h":0.649,"w":1.5},{"b":"X9","o":1,"x":1134,"h":0.663,"w":2},{"b":"X9","o":2,"x":1141,"h":0.577,"w":2},{"b":"X10","o":1,"x":1194,"h":0.706,"w":1.5},{"b":"X10","o":2,"x":1194,"h":0.655,"w":1.5},{"b":"X11","o":1,"x":1203,"h":0.706,"w":1.5},{"b":"X11","o":2,"x":1206,"h":0.607,"w":1.5},{"b":"X12","o":1,"x":1212,"h":0.695,"w":1.5},{"b":"X12","o":2,"x":1219,"h":0.604,"w":1.5},{"b":"X13","o":1,"x":1221,"h":0.692,"w":3},{"b":"X13","o":2,"x":1240,"h":0.631,"w":3},{"b":"X13","o":3,"x":1249,"h":0.574,"w":2}
]},"mark":{"type":"line","stroke":"#0c0c0c","strokeCap":"butt"},"encoding":{"detail":{"field":"b"},"order":{"field":"o","type":"quantitative"},"strokeWidth":{"field":"w","type":"quantitative","legend":null,"scale":{"domain":[1,4],"range":[2,14]}}}}
]},
{"data":{"values":[
{"s":1,"e":128,"Dynamic Tree Cut":"yellow","Merged dynamic":"yellow"},{"s":128,"e":210.5,"Dynamic Tree Cut":"lime","Merged dynamic":"lime"},{"s":210.5,"e":245,"Dynamic Tree Cut":"cyan","Merged dynamic":"cyan"},{"s":245,"e":250,"Dynamic Tree Cut":"slateblue","Merged dynamic":"slateblue"},{"s":250,"e":255.5,"Dynamic Tree Cut":"blue","Merged dynamic":"blue"},{"s":255.5,"e":258.5,"Dynamic Tree Cut":"cadet","Merged dynamic":"cadet"},{"s":258.5,"e":262.6,"Dynamic Tree Cut":"black","Merged dynamic":"black"},{"s":262.6,"e":266,"Dynamic Tree Cut":"gold","Merged dynamic":"gold"},{"s":266,"e":276.5,"Dynamic Tree Cut":"magenta","Merged dynamic":"magenta"},{"s":276.5,"e":280.7,"Dynamic Tree Cut":"sienna","Merged dynamic":"sienna"},{"s":280.7,"e":285,"Dynamic Tree Cut":"grey","Merged dynamic":"grey"},{"s":285,"e":291,"Dynamic Tree Cut":"darkturquoise","Merged dynamic":"darkturquoise"},{"s":291,"e":294.6,"Dynamic Tree Cut":"steelblue","Merged dynamic":"steelblue"},{"s":294.6,"e":353.5,"Dynamic Tree Cut":"pink","Merged dynamic":"pink"},{"s":353.5,"e":358.6,"Dynamic Tree Cut":"lilac","Merged dynamic":"lilac"},{"s":358.6,"e":365,"Dynamic Tree Cut":"dodger","Merged dynamic":"dodger"},{"s":365,"e":412.5,"Dynamic Tree Cut":"greenyellow","Merged dynamic":"greenyellow"},{"s":412.5,"e":421.7,"Dynamic Tree Cut":"orchid","Merged dynamic":"orchid"},{"s":421.7,"e":430,"Dynamic Tree Cut":"mauve","Merged dynamic":"mauve"},{"s":430,"e":436.5,"Dynamic Tree Cut":"midnight","Merged dynamic":"midnight"},{"s":436.5,"e":474,"Dynamic Tree Cut":"salmon","Merged dynamic":"salmon"},{"s":474,"e":525,"Dynamic Tree Cut":"magenta","Merged dynamic":"magenta"},{"s":525,"e":532.5,"Dynamic Tree Cut":"plum","Merged dynamic":"plum"},{"s":532.5,"e":538.8,"Dynamic Tree Cut":"blue","Merged dynamic":"blue"},{"s":538.8,"e":542.5,"Dynamic Tree Cut":"cadet","Merged dynamic":"cadet"},{"s":542.5,"e":552,"Dynamic Tree Cut":"blue","Merged dynamic":"blue"},{"s":552,"e":560,"Dynamic Tree Cut":"darkturquoise","Merged dynamic":"darkturquoise"},{"s":560,"e":563,"Dynamic Tree Cut":"navy","Merged dynamic":"navy"},{"s":563,"e":571,"Dynamic Tree Cut":"darkpurple","Merged dynamic":"darkpurple"},{"s":571,"e":581.7,"Dynamic Tree Cut":"firebrick","Merged dynamic":"firebrick"},{"s":581.7,"e":586,"Dynamic Tree Cut":"blue","Merged dynamic":"blue"},{"s":586,"e":629,"Dynamic Tree Cut":"tan","Merged dynamic":"tan"},{"s":629,"e":635.6,"Dynamic Tree Cut":"darkturquoise","Merged dynamic":"darkturquoise"},{"s":635.6,"e":640,"Dynamic Tree Cut":"steelblue","Merged dynamic":"steelblue"},{"s":640,"e":678,"Dynamic Tree Cut":"purple","Merged dynamic":"purple"},{"s":678,"e":682,"Dynamic Tree Cut":"darkturquoise","Merged dynamic":"darkturquoise"},{"s":682,"e":696.6,"Dynamic Tree Cut":"firebrick","Merged dynamic":"firebrick"},{"s":696.6,"e":699,"Dynamic Tree Cut":"darkpurple","Merged dynamic":"darkpurple"},{"s":699,"e":703,"Dynamic Tree Cut":"darkturquoise","Merged dynamic":"darkturquoise"},{"s":703,"e":708,"Dynamic Tree Cut":"indigo","Merged dynamic":"indigo"},{"s":708,"e":714.5,"Dynamic Tree Cut":"blue","Merged dynamic":"blue"},{"s":714.5,"e":720,"Dynamic Tree Cut":"grey","Merged dynamic":"grey"},{"s":720,"e":725.7,"Dynamic Tree Cut":"indigo","Merged dynamic":"indigo"},{"s":725.7,"e":733,"Dynamic Tree Cut":"darkturquoise","Merged dynamic":"darkturquoise"},{"s":733,"e":742,"Dynamic Tree Cut":"slate","Merged dynamic":"slate"},{"s":742,"e":746.4,"Dynamic Tree Cut":"taupe","Merged dynamic":"taupe"},{"s":746.4,"e":750.6,"Dynamic Tree Cut":"seagreen","Merged dynamic":"seagreen"},{"s":750.6,"e":757,"Dynamic Tree Cut":"dodger","Merged dynamic":"dodger"},{"s":757,"e":764,"Dynamic Tree Cut":"blue","Merged dynamic":"blue"},{"s":764,"e":770,"Dynamic Tree Cut":"seagreen","Merged dynamic":"seagreen"},{"s":770,"e":776.7,"Dynamic Tree Cut":"slate","Merged dynamic":"slate"},{"s":776.7,"e":792,"Dynamic Tree Cut":"skyblue","Merged dynamic":"skyblue"},{"s":792,"e":857.6,"Dynamic Tree Cut":"red","Merged dynamic":"red"},{"s":857.6,"e":860.5,"Dynamic Tree Cut":"blue","Merged dynamic":"blue"},{"s":860.5,"e":865,"Dynamic Tree Cut":"deepsky","Merged dynamic":"deepsky"},{"s":865,"e":869,"Dynamic Tree Cut":"slate","Merged dynamic":"slate"},{"s":869,"e":873,"Dynamic Tree Cut":"deepsky","Merged dynamic":"deepsky"},{"s":873,"e":885.5,"Dynamic Tree Cut":"skyblue","Merged dynamic":"skyblue"},{"s":885.5,"e":891,"Dynamic Tree Cut":"darkblue","Merged dynamic":"darkblue"},{"s":891,"e":898.7,"Dynamic Tree Cut":"deepsky","Merged dynamic":"deepsky"},{"s":898.7,"e":992,"Dynamic Tree Cut":"firebrick","Merged dynamic":"firebrick"},{"s":992,"e":1001.6,"Dynamic Tree Cut":"dodger","Merged dynamic":"dodger"},{"s":1001.6,"e":1006.6,"Dynamic Tree Cut":"darkblue","Merged dynamic":"darkblue"},{"s":1006.6,"e":1020.3,"Dynamic Tree Cut":"dodger","Merged dynamic":"dodger"},{"s":1020.3,"e":1031.5,"Dynamic Tree Cut":"royal","Merged dynamic":"royal"},{"s":1031.5,"e":1038,"Dynamic Tree Cut":"deepsky","Merged dynamic":"deepsky"},{"s":1038,"e":1045,"Dynamic Tree Cut":"dodger","Merged dynamic":"dodger"},{"s":1045,"e":1086.7,"Dynamic Tree Cut":"black","Merged dynamic":"black"},{"s":1086.7,"e":1092,"Dynamic Tree Cut":"deepsky","Merged dynamic":"deepsky"},{"s":1092,"e":1165.6,"Dynamic Tree Cut":"blue","Merged dynamic":"blue"},{"s":1165.6,"e":1254,"Dynamic Tree Cut":"turquoise","Merged dynamic":"turquoise"}]},
"transform":[{"fold":["Dynamic Tree Cut","Merged dynamic"],"as":["row","module"]}],
"encoding":{"x":{"field":"s","type":"quantitative","axis":null,"scale":{"domain":[0,1256],"range":[506,1762],"nice":false,"zero":false}},"y":{"field":"row","type":"nominal","scale":{"domain":["Dynamic Tree Cut","Merged dynamic"],"range":[1035,1327],"paddingInner":0,"paddingOuter":0},"axis":{"orient":"left","offset":-506,"title":null,"domain":false,"ticks":false,"labelAlign":"left","labelPadding":454,"labelOffset":8,"labelFontSize":54,"labelFontWeight":"bold","labelColor":"#111"}}},
"layer":[
{"mark":{"type":"rect"},"encoding":{"x2":{"field":"e"},"color":{"field":"module","type":"nominal","legend":null,"scale":{"domain":["yellow","lime","cyan","slateblue","blue","cadet","black","gold","magenta","sienna","grey","darkturquoise","steelblue","pink","lilac","dodger","greenyellow","orchid","mauve","midnight","salmon","plum","navy","darkpurple","firebrick","tan","purple","skyblue","seagreen","red","darkblue","deepsky","royal","turquoise","indigo","slate","taupe"],"range":["#ffff00","#00ff00","#00ffff","#5a4fcf","#0000ff","#5f9ea0","#000000","#ffd700","#ff00f0","#c0504a","#808888","#00c8c8","#1a78c0","#ffc0cb","#9a9ac8","#1090e0","#7fff00","#b010b0","#8a7a90","#101030","#ff8070","#9a6090","#200080","#70105a","#bf2424","#d8b088","#b81cf0","#10a0d8","#2a8a70","#ff0000","#105a9a","#00b8f0","#2060c0","#00e0d0","#40308a","#206a90","#8a6a60"]}}}},
{"mark":{"type":"rect","fill":null,"stroke":"#444","strokeWidth":3,"strokeOpacity":0.8},"transform":[{"filter":"datum.s == 1"}],"encoding":{"x2":{"datum":1254},"x":{"datum":0,"type":"quantitative","axis":null,"scale":{"domain":[0,1256],"range":[506,1762],"nice":false,"zero":false}}}}
]},
{"data":{"values":[{"trait":"Tiller number","module":"MM.red","r":-0.43,"stars":""},{"trait":"Tiller number","module":"MM.black","r":-0.55,"stars":"**"},{"trait":"Tiller number","module":"MM.turquoise","r":-0.55,"stars":"**"},{"trait":"Tiller number","module":"MM.yellow","r":0.04,"stars":""},{"trait":"Tiller number","module":"MM.magenta","r":-0.44,"stars":""},{"trait":"Tiller number","module":"MM.salmon","r":0.05,"stars":""},{"trait":"Tiller number","module":"MM.green","r":-0.2,"stars":""},{"trait":"Tiller number","module":"MM.tan","r":0.34,"stars":"*"},{"trait":"Tiller number","module":"MM.greenyellow","r":0.14,"stars":""},{"trait":"Tiller number","module":"MM.pink","r":-0.44,"stars":""},{"trait":"Tiller number","module":"MM.cyan","r":0.14,"stars":""},{"trait":"Tiller number","module":"MM.purple","r":0.15,"stars":""},{"trait":"Tiller number","module":"MM.blue","r":0.62,"stars":"***"},{"trait":"Tiller number","module":"MM.brown","r":0.36,"stars":"*"},{"trait":"Tiller number","module":"MM.grey","r":0.14,"stars":""}]},
"encoding":{"x":{"field":"trait","type":"nominal","scale":{"range":[2208,2278],"paddingInner":0,"paddingOuter":0},"axis":{"orient":"bottom","offset":-1303,"title":null,"domain":false,"labelAngle":0,"labelFontSize":39,"labelColor":"#111","tickColor":"#999","tickWidth":3,"tickSize":15,"labelPadding":10}},"y":{"field":"module","type":"nominal","sort":null,"scale":{"domain":["MM.red","MM.black","MM.turquoise","MM.yellow","MM.magenta","MM.salmon","MM.green","MM.tan","MM.greenyellow","MM.pink","MM.cyan","MM.purple","MM.blue","MM.brown","MM.grey"],"range":[148,1342],"paddingInner":0,"paddingOuter":0},"axis":{"orient":"right","offset":-917,"title":null,"domain":false,"labelFontSize":39,"labelColor":"#111","tickColor":"#999","tickWidth":3,"tickSize":13,"labelPadding":11,"labelOffset":3}}},
"layer":[
{"mark":{"type":"rect","stroke":"#383838","strokeWidth":3},"encoding":{"color":{"field":"r","type":"quantitative","scale":{"type":"linear","domain":[-0.627,-0.5,-0.25,0,0.25,0.5,0.64],"range":["#0a96e0","#0f90da","#6f85b0","#b27f72","#c8626a","#e0504f","#ee4d44"]},"legend":{"orient":"none","legendX":2736.5,"legendY":352,"padding":0,"title":null,"direction":"vertical","gradientLength":254,"gradientThickness":27.5,"gradientStrokeWidth":0,"values":[-0.5,-0.25,0,0.25,0.5],"format":".2~f","labelFontSize":33,"labelColor":"#111","labelOffset":15,"labelOverlap":false}}}},
{"mark":{"type":"text","color":"white","fontSize":34,"dy":12},"encoding":{"text":{"field":"stars"}}}
]},
{"data":{"values":[{"v":-0.5},{"v":-0.25},{"v":0},{"v":0.25},{"v":0.5}]},"mark":{"type":"rule","stroke":"white","strokeWidth":2.5,"strokeDash":[6,15.5,6]},"encoding":{"x":{"datum":0,"type":"quantitative","axis":null,"scale":{"domain":[0,1],"range":[2736.5,2764],"nice":false,"zero":false}},"x2":{"datum":1},"y":{"field":"v","type":"quantitative","axis":null,"scale":{"domain":[-0.5,0.5],"range":[581,380],"nice":false,"zero":false}}}},
{"encoding":{"x":{"field":"x","type":"quantitative","axis":null,"scale":{"domain":[0,1568],"range":[20,1060],"nice":false,"zero":false}},"y":{"field":"y","type":"quantitative","axis":null,"scale":{"domain":[0,1568],"range":[1640,2520],"nice":false,"zero":false}}},
"layer":[
{"data":{"name":"edgesT"},"mark":{"type":"rule"},"encoding":{"x2":{"field":"x2"},"y2":{"field":"y2"},"stroke":{"field":"r","type":"nominal","legend":null,"scale":{"domain":["blue","cerulean","teal","slate","gray","mauve","rose","salmon","coral"],"range":["#0a6cc8","#0089b5","#008f86","#5c837f","#82817d","#ae7070","#c07878","#e57070","#ff6f6f"]}},"strokeWidth":{"field":"w","type":"quantitative","legend":null,"scale":{"domain":[1,4],"range":[4,17]}}}},
{"data":{"name":"curvesT"},"mark":{"type":"line","interpolate":"monotone"},"encoding":{"detail":{"field":"e"},"order":{"field":"o","type":"quantitative"},"stroke":{"field":"r","type":"nominal","legend":null,"scale":{"domain":["blue","cerulean","teal","slate","gray","mauve","rose","salmon","coral"],"range":["#0a6cc8","#0089b5","#008f86","#5c837f","#82817d","#ae7070","#c07878","#e57070","#ff6f6f"]}},"strokeWidth":{"field":"w","type":"quantitative","legend":null,"scale":{"domain":[1,4],"range":[4,17]}}}},
{"data":{"name":"nodesT"},"mark":{"type":"point","filled":true,"opacity":1,"stroke":"#f5b878","strokeWidth":1.5},"encoding":{"color":{"field":"t","type":"nominal","legend":null,"scale":{"domain":["gold","amber","olive","crimson","maroon","teal"],"range":["#ffe500","#f2dc00","#d4da10","#b00030","#960000","#00958c"]}},"size":{"field":"d","type":"quantitative","legend":null,"scale":{"type":"pow","exponent":2,"domain":[0,200],"range":[0,40000]}},"shape":{"field":"k","type":"nominal","legend":null,"scale":{"domain":["gene","tf"],"range":["M-0.86,0A0.86,1 0 1,1 0.86,0A0.86,1 0 1,1 -0.86,0Z","M-0.93,-1L0,-0.36L0.93,-1L0,1Z"]}}}},
{"data":{"name":"textT"},"mark":{"type":"text","fontSize":57,"color":"#000"},"encoding":{"text":{"field":"label"}}}
]},
{"encoding":{"x":{"field":"x","type":"quantitative","axis":null,"scale":{"domain":[0,1568],"range":[1050,2150],"nice":false,"zero":false}},"y":{"field":"y","type":"quantitative","axis":null,"scale":{"domain":[0,1568],"range":[1630,2430],"nice":false,"zero":false}}},
"layer":[
{"data":{"name":"edgesB"},"mark":{"type":"rule"},"encoding":{"x2":{"field":"x2"},"y2":{"field":"y2"},"stroke":{"field":"r","type":"nominal","legend":null,"scale":{"domain":["blue","cerulean","teal","slate","gray","mauve","rose","salmon","coral"],"range":["#0a6cc8","#0089b5","#008f86","#5c837f","#82817d","#ae7070","#c07878","#e57070","#ff6f6f"]}},"strokeWidth":{"field":"w","type":"quantitative","legend":null,"scale":{"domain":[1,4],"range":[3.5,16]}}}},
{"data":{"name":"nodesB"},"mark":{"type":"point","filled":true,"opacity":1,"stroke":"#f5a878","strokeWidth":1.5},"encoding":{"color":{"field":"t","type":"nominal","legend":null,"scale":{"domain":["lemon","citron","pear","pear2","apple","leaf","amber2","crimson"],"range":["#ffff00","#e8f200","#cfea00","#bce000","#a2d800","#4dbb44","#ffd800","#b00030"]}},"size":{"field":"d","type":"quantitative","legend":null,"scale":{"type":"pow","exponent":2,"domain":[0,200],"range":[0,40000]}},"shape":{"field":"k","type":"nominal","legend":null,"scale":{"domain":["gene","tf"],"range":["M-0.96,0A0.96,1 0 1,1 0.96,0A0.96,1 0 1,1 -0.96,0Z","M-0.96,-1L0,-0.34L0.96,-1L0,1Z"]}}}},
{"data":{"name":"textB"},"mark":{"type":"text","fontSize":60,"color":"#000"},"encoding":{"text":{"field":"label"}}}
]},
{"encoding":{"x":{"field":"x","type":"quantitative","axis":null,"scale":{"domain":[0,1568],"range":[2170,3190],"nice":false,"zero":false}},"y":{"field":"y","type":"quantitative","axis":null,"scale":{"domain":[0,1568],"range":[1620,2420],"nice":false,"zero":false}}},
"layer":[
{"data":{"name":"edgesK"},"mark":{"type":"rule"},"encoding":{"x2":{"field":"x2"},"y2":{"field":"y2"},"stroke":{"field":"r","type":"nominal","legend":null,"scale":{"domain":["blue","cerulean","teal","slate","gray","mauve","rose","salmon","coral"],"range":["#0a6cc8","#0089b5","#008f86","#5c837f","#82817d","#c07070","#c07878","#e57070","#ff6f6f"]}},"strokeWidth":{"field":"w","type":"quantitative","legend":null,"scale":{"domain":[1,4],"range":[4,19]}}}},
{"data":{"name":"curvesK"},"mark":{"type":"line","interpolate":"monotone"},"encoding":{"detail":{"field":"e"},"order":{"field":"o","type":"quantitative"},"stroke":{"field":"r","type":"nominal","legend":null,"scale":{"domain":["blue","cerulean","teal","slate","gray","mauve","rose","salmon","coral"],"range":["#0a6cc8","#0089b5","#008f86","#5c837f","#82817d","#c07070","#c07878","#e57070","#ff6f6f"]}},"strokeWidth":{"field":"w","type":"quantitative","legend":null,"scale":{"domain":[1,4],"range":[4,19]}}}},
{"data":{"name":"nodesK"},"mark":{"type":"point","filled":true,"opacity":1,"stroke":"#f58a70","strokeWidth":1.5},"encoding":{"color":{"field":"t","type":"nominal","legend":null,"scale":{"domain":["gold","olive","olive2","olive3","moss","crimson","teal"],"range":["#fbe600","#cdd61a","#e0de00","#eae000","#a8c838","#b00030","#00958c"]}},"size":{"field":"d","type":"quantitative","legend":null,"scale":{"type":"pow","exponent":2,"domain":[0,200],"range":[0,40000]}},"shape":{"value":"M-0.96,0A0.96,1 0 1,1 0.96,0A0.96,1 0 1,1 -0.96,0Z"}}},
{"data":{"name":"textK"},"mark":{"type":"text","fontSize":70,"color":"#000"},"encoding":{"text":{"field":"label"}}}
]},
{"encoding":{"x":{"field":"fx","type":"quantitative","axis":null,"scale":{"domain":[0,1],"range":[0,3195],"nice":false,"zero":false}},"y":{"field":"fy","type":"quantitative","axis":null,"scale":{"domain":[0,1],"range":[0,2645],"nice":false,"zero":false}},"text":{"field":"label"}},
"layer":[
{"data":{"values":[{"fx":0.0351,"fy":0.0232,"label":"A"},{"fx":0.5655,"fy":0.0247,"label":"B"},{"fx":0.0326,"fy":0.6145,"label":"C"}]},"mark":{"type":"text","fontSize":84,"color":"#000"}},
{"data":{"values":[{"fx":0.3521,"fy":0.0556,"label":"Cluster Dendrogram"}]},"mark":{"type":"text","fontSize":56,"fontWeight":"bold","color":"#000"}},
{"data":{"values":[{"fx":0.699,"fy":0.0262,"label":"Trait-Module Association Heatmap"}]},"mark":{"type":"text","fontSize":44.5,"color":"#111"}},
{"data":{"values":[{"fx":0.161,"fy":0.9745,"label":"Turquoise"},{"fx":0.5144,"fy":0.9745,"label":"Blue"},{"fx":0.8326,"fy":0.9745,"label":"Black"}]},"mark":{"type":"text","fontSize":74.5,"fontWeight":"bold","color":"#000"}}
]}
]}
